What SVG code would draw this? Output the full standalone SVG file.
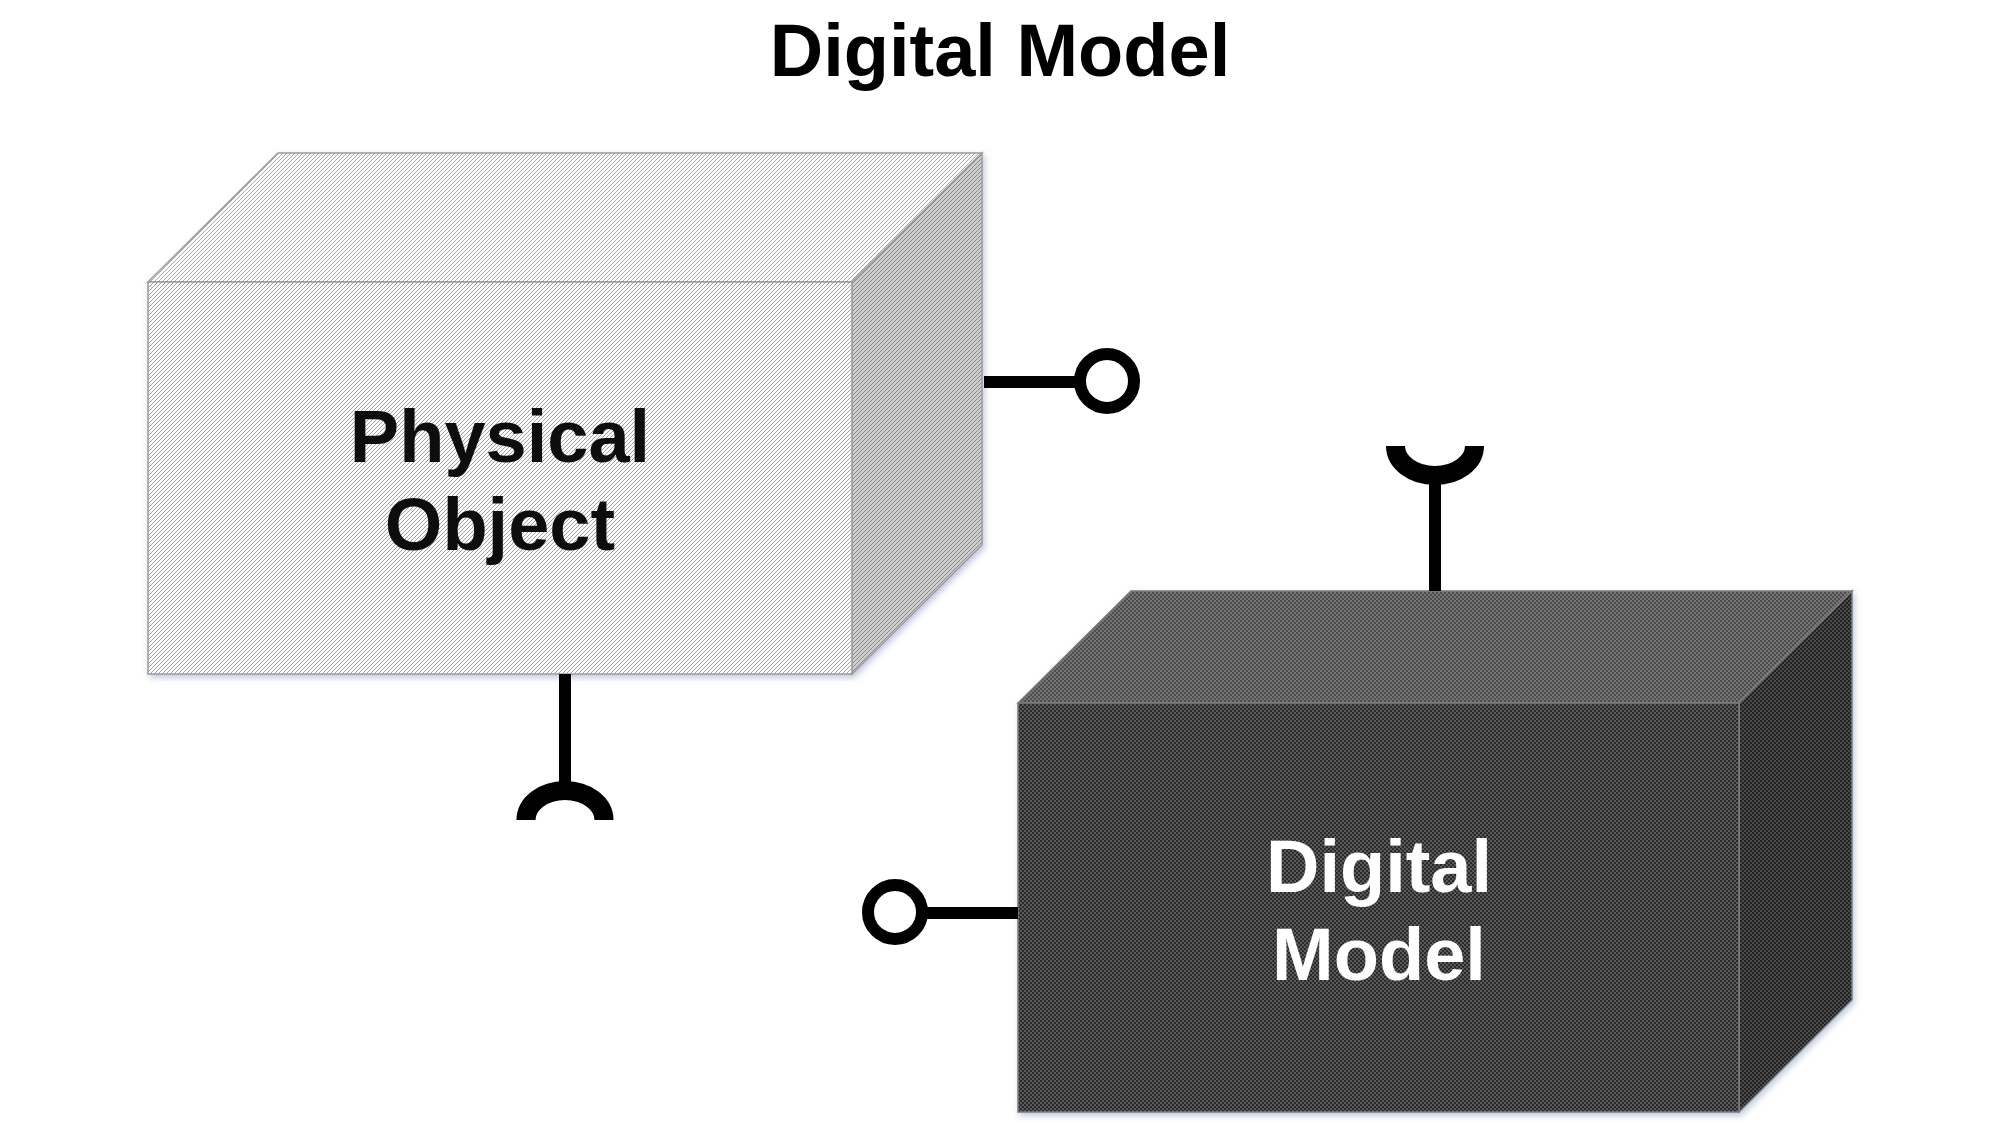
<svg xmlns="http://www.w3.org/2000/svg" width="2000" height="1125" viewBox="0 0 2000 1125">
  <defs>
    <pattern id="hatchLight" width="4" height="4" patternUnits="userSpaceOnUse">
      <rect width="4" height="4" fill="#fbfbfb"/>
      <path d="M0 3h1v1H0zM1 2h1v1H1zM2 1h1v1H2zM3 0h1v1H3z" fill="#a2a2a2"/>
    </pattern>
    <pattern id="hatchTop" width="4" height="4" patternUnits="userSpaceOnUse">
      <rect width="4" height="4" fill="#fcfcfc"/>
      <path d="M0 3h1v1H0zM1 2h1v1H1zM2 1h1v1H2zM3 0h1v1H3z" fill="#aaaaaa"/>
    </pattern>
    <pattern id="hatchSide" width="4" height="4" patternUnits="userSpaceOnUse">
      <rect width="4" height="4" fill="#cdcdcd"/>
      <path d="M0 3h1v1H0zM1 2h1v1H1zM2 1h1v1H2zM3 0h1v1H3z" fill="#8c8c8c"/>
    </pattern>
    <pattern id="darkFront" width="4" height="4" patternUnits="userSpaceOnUse">
      <rect width="4" height="4" fill="#5a5a5a"/>
      <path d="M0 0h2v2H0zM2 2h2v2H2z" fill="#2c2c2c"/>
    </pattern>
    <pattern id="darkTop" width="4" height="4" patternUnits="userSpaceOnUse">
      <rect width="4" height="4" fill="#747474"/>
      <path d="M0 0h2v2H0zM2 2h2v2H2z" fill="#4e4e4e"/>
    </pattern>
    <pattern id="darkSide" width="4" height="4" patternUnits="userSpaceOnUse">
      <rect width="4" height="4" fill="#4c4c4c"/>
      <path d="M0 0h2v2H0zM2 2h2v2H2z" fill="#222222"/>
    </pattern>
    <filter id="shadow" x="-5%" y="-5%" width="112%" height="112%">
      <feGaussianBlur in="SourceAlpha" stdDeviation="3"/>
      <feOffset dx="2" dy="3" result="b"/>
      <feFlood flood-color="#8093c0" flood-opacity="0.5"/>
      <feComposite in2="b" operator="in"/>
      <feMerge><feMergeNode/><feMergeNode in="SourceGraphic"/></feMerge>
    </filter>
  </defs>
  <style>
    .title { font-family: "Liberation Sans", Arial, sans-serif; font-weight: bold; font-size: 74px; fill: #000; }
    .lbl { font-family: "Liberation Sans", Arial, sans-serif; font-weight: bold; font-size: 74px; text-anchor: middle; }
    .lightEdge { stroke: #9c9c9c; stroke-width: 1.5; stroke-linejoin: miter; }
    .darkEdge { stroke: #7c7c7c; stroke-width: 1.5; stroke-linejoin: miter; }
    .conn { stroke: #000; fill: none; stroke-width: 12; }
    .socket { stroke: #000; fill: none; stroke-width: 19; }
  </style>
  <rect width="2000" height="1125" fill="#ffffff"/>

  <text class="title" x="1000" y="76" text-anchor="middle">Digital Model</text>

  <g id="physical-object" filter="url(#shadow)">
    <polygon class="lightEdge" points="148,282 278,153 982,153 852,282" fill="url(#hatchTop)"/>
    <polygon class="lightEdge" points="852,282 982,153 982,545 852,674" fill="url(#hatchSide)"/>
    <rect class="lightEdge" x="148" y="282" width="704" height="392" fill="url(#hatchLight)"/>
    <text class="lbl" x="500" y="462" fill="#111">Physical</text>
    <text class="lbl" x="500" y="550" fill="#111">Object</text>
  </g>

  <g id="digital-model" filter="url(#shadow)">
    <polygon class="darkEdge" points="1018,703 1131,591 1852,591 1739,703" fill="url(#darkTop)"/>
    <polygon class="darkEdge" points="1739,703 1852,591 1852,1000 1739,1112" fill="url(#darkSide)"/>
    <rect class="darkEdge" x="1018" y="703" width="721" height="409" fill="url(#darkFront)"/>
    <text class="lbl" x="1379" y="892" fill="#ffffff">Digital</text>
    <text class="lbl" x="1379" y="980" fill="#ffffff">Model</text>
  </g>

  <g id="connectors">
    <line class="conn" x1="984" y1="382" x2="1081" y2="382"/>
    <circle class="conn" cx="1107" cy="381" r="27"/>
    <line class="conn" x1="565" y1="674" x2="565" y2="782"/>
    <path class="socket" d="M526 820 A39 29.5 0 0 1 604 820"/>
    <line class="conn" x1="1435" y1="591" x2="1435" y2="480"/>
    <path class="socket" d="M1395.5 446 A39.5 29.5 0 0 0 1474.5 446"/>
    <line class="conn" x1="921" y1="913" x2="1018" y2="913"/>
    <circle class="conn" cx="895" cy="912" r="27"/>
  </g>
</svg>
